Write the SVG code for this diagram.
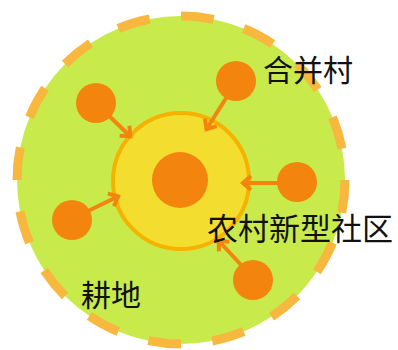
<svg xmlns="http://www.w3.org/2000/svg" width="398" height="350" viewBox="0 0 398 350">
<style>
.field{fill:#c8ea4a;stroke:#f8b840;stroke-width:9}
.core{fill:#f3de30;stroke:#f7b200;stroke-width:4}
.dot{fill:#f3850f}
.arrow{stroke:#f3850f;stroke-width:4;fill:none}
.label{font-family:"Noto Sans CJK SC","Noto Sans",sans-serif;font-size:30px;fill:#111}
</style>
<defs>
<marker id="ah" markerUnits="userSpaceOnUse" markerWidth="20" markerHeight="20" viewBox="-12 -10 14 20" refX="0" refY="0" orient="auto">
<path d="M-9,-7 L-1,0 L-9,7" fill="none" stroke="#f3850f" stroke-width="4"/>
</marker>
</defs>
<rect width="398" height="350" fill="#ffffff"/>
<g id="farmland">
<circle class="field" cx="181" cy="180" r="164" pathLength="360" stroke-dasharray="11.5 11"/>
</g>
<g id="community">
<circle class="core" cx="181" cy="181" r="68"/>
<circle class="dot" cx="180" cy="180" r="28"/>
</g>
<g id="village1"><circle class="dot" cx="96" cy="103" r="20"/></g>
<g id="village2"><circle class="dot" cx="236" cy="81" r="20"/></g>
<g id="village3"><circle class="dot" cx="297" cy="182" r="20"/></g>
<g id="village4"><circle class="dot" cx="72" cy="220" r="20"/></g>
<g id="village5"><circle class="dot" cx="253" cy="280" r="20"/></g>
<g id="connectors">
<line class="arrow" x1="105" y1="112" x2="131" y2="137" marker-end="url(#ah)"/>
<line class="arrow" x1="228" y1="95" x2="206" y2="130" marker-end="url(#ah)"/>
<line class="arrow" x1="282" y1="183" x2="242" y2="183" marker-end="url(#ah)"/>
<line class="arrow" x1="86" y1="212" x2="119" y2="196" marker-end="url(#ah)"/>
<line class="arrow" x1="242" y1="266" x2="218" y2="240" marker-end="url(#ah)"/>
</g>
<g id="labels">
<text class="label" x="263" y="81">合并村</text>
<text class="label" x="207" y="240" style="font-size:31px">农村新型社区</text>
<text class="label" x="81" y="306">耕地</text>
</g>
</svg>
